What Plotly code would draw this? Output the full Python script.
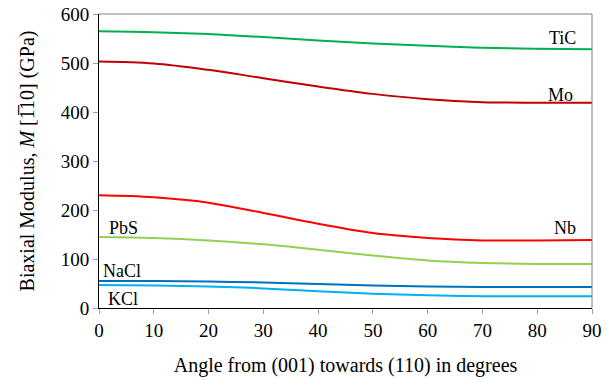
import plotly.graph_objects as go

angles = [0, 10, 20, 30, 40, 50, 60, 70, 80, 90]
TiC = [565, 563, 559, 553, 546, 540, 535, 531, 529, 528]
Mo = [503, 499, 486, 469, 452, 437, 426, 420, 419, 419]
Nb = [230, 226, 215, 194, 172, 153, 143, 138, 138, 139]
PbS = [145, 143, 138, 130, 119, 107, 97, 92, 90, 90]
NaCl = [55, 55, 54, 52, 49, 46, 44, 43, 43, 43]
KCl = [47, 46, 44, 40, 34, 29, 26, 24, 24, 24]

series = [
    ("TiC", TiC, "#00b050"),
    ("Mo", Mo, "#c00000"),
    ("Nb", Nb, "#ff0000"),
    ("PbS", PbS, "#92d050"),
    ("NaCl", NaCl, "#0070c0"),
    ("KCl", KCl, "#00b0f0"),
]

labels = [
    ("TiC", 84.7, 551),
    ("Mo", 84.2, 435),
    ("Nb", 85.0, 163),
    ("PbS", 4.4, 163),
    ("NaCl", 4.2, 75),
    ("KCl", 4.4, 18),
]

FONT = "Times New Roman, Liberation Serif, serif"

fig = go.Figure()
for name, vals, col in series:
    fig.add_trace(go.Scatter(x=angles, y=vals, mode="lines", name=name,
                             line=dict(color=col, width=2, shape="spline", smoothing=1.0),
                             showlegend=False))

for txt, x, y in labels:
    fig.add_annotation(x=x, y=y, text=txt, showarrow=False,
                       font=dict(family=FONT, size=18, color="black"))

fig.update_layout(
    width=607, height=380,
    margin=dict(l=99, r=15, t=14, b=72),
    paper_bgcolor="white", plot_bgcolor="white",
    font=dict(family=FONT, size=18, color="black"),
    xaxis=dict(range=[0, 90], tickvals=list(range(0, 91, 10)), ticks="outside",
               ticklen=5, tickcolor="#a0a0a0", showgrid=False, zeroline=False,
               showline=True, linecolor="black", linewidth=1, mirror=False,
               automargin=False,
               tickfont=dict(family=FONT, size=19, color="black"),
               title=dict(text="Angle from (001) towards (110) in degrees",
                          font=dict(family=FONT, size=20), standoff=18)),
    yaxis=dict(range=[0, 600], tickvals=list(range(0, 601, 100)), ticks="outside",
               ticklen=5, tickcolor="#a0a0a0", showgrid=False, zeroline=False,
               showline=True, linecolor="black", linewidth=1, mirror=False,
               automargin=False,
               tickfont=dict(family=FONT, size=19, color="black"),
               title=dict(text="Biaxial Modulus, <i>M</i> [1\u030510] (GPa)",
                          font=dict(family=FONT, size=20), standoff=20)),
)
fig.add_shape(type="line", xref="paper", yref="paper", x0=0, x1=1, y0=1, y1=1,
              line=dict(color="#808080", width=1))
fig.add_shape(type="line", xref="paper", yref="paper", x0=1, x1=1, y0=0, y1=1,
              line=dict(color="#808080", width=1))

fig.write_html("out.html")
